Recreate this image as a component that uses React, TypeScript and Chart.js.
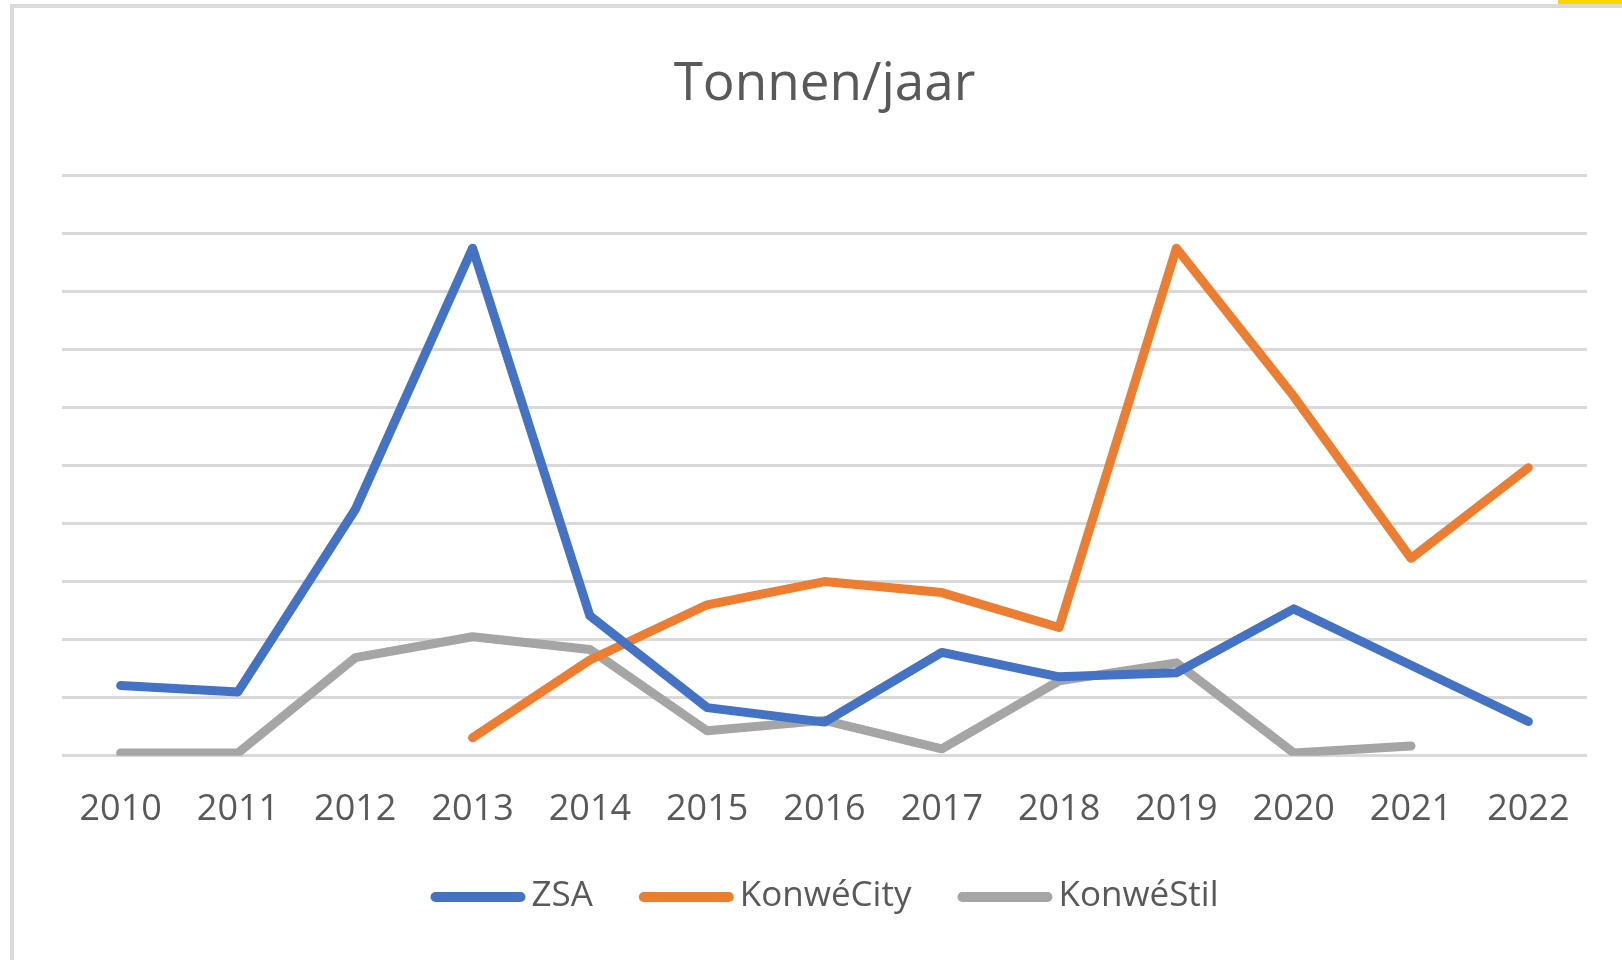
import React, { useEffect, useRef } from "react";
import { Chart, registerables } from "chart.js";

Chart.register(...registerables);

const categories = ["2010", "2011", "2012", "2013", "2014", "2015", "2016", "2017", "2018", "2019", "2020", "2021", "2022"];
const zsa = [1.21, 1.1, 4.24, 8.74, 2.41, 0.83, 0.58, 1.78, 1.36, 1.43, 2.53, 1.56, 0.59];
const konweCity = [null, null, null, 0.31, 1.65, 2.6, 3.0, 2.81, 2.21, 8.74, 6.19, 3.4, 4.96];
const konweStil = [0.05, 0.05, 1.69, 2.05, 1.83, 0.43, 0.61, 0.12, 1.29, 1.6, 0.05, 0.17, null];
const seriesNames = ["ZSA", "KonwéCity", "KonwéStil"];
const seriesColors = ["#4472C4", "#ED7D31", "#A5A5A5"];

const FONT = '"Open Sans", "Noto Sans", sans-serif';
const TEXT = "#595959";

const legendPlugin = {
  id: "customLegend",
  afterDraw(chart: any) {
    const ctx = chart.ctx as CanvasRenderingContext2D;
    const L = 95;
    const gap = 6;
    const spacing = 46;
    const y = 897;
    ctx.save();
    ctx.font = `35px ${FONT}`;
    const items = chart.data.datasets.map((ds: any) => ({
      text: ds.label as string,
      color: ds.borderColor as string,
      w: ctx.measureText(ds.label).width,
    }));
    const total = items.reduce((a: number, it: any) => a + L + gap + it.w, 0) + spacing * (items.length - 1);
    let x = (chart.chartArea.left + chart.chartArea.right) / 2 - total / 2;
    for (const it of items) {
      ctx.strokeStyle = it.color;
      ctx.lineWidth = 10;
      ctx.lineCap = "round";
      ctx.beginPath();
      ctx.moveTo(x + 5, y);
      ctx.lineTo(x + L - 5, y);
      ctx.stroke();
      ctx.fillStyle = TEXT;
      ctx.textBaseline = "middle";
      ctx.textAlign = "left";
      ctx.fillText(it.text, x + L + gap, y - 1);
      x += L + gap + it.w + spacing;
    }
    ctx.restore();
  },
};

export default function App() {
  const ref = useRef<HTMLCanvasElement | null>(null);

  useEffect(() => {
    if (!ref.current) return;
    const mk = (i: number, data: (number | null)[]) => ({
      label: seriesNames[i],
      data,
      borderColor: seriesColors[i],
      backgroundColor: seriesColors[i],
      borderWidth: 9,
      borderCapStyle: "round" as const,
      borderJoinStyle: "round" as const,
      pointRadius: 0,
      pointHoverRadius: 0,
      tension: 0,
      spanGaps: false,
    });
    const chart = new Chart(ref.current, {
      type: "line",
      data: {
        labels: categories,
        datasets: [mk(0, zsa), mk(1, konweCity), mk(2, konweStil)],
      },
      options: {
        responsive: false,
        animation: false,
        layout: { padding: { left: 62, right: 35, top: 0, bottom: 97 } },
        plugins: {
          legend: { display: false },
          tooltip: { enabled: false },
          title: {
            display: true,
            text: "Tonnen/jaar",
            color: TEXT,
            font: { family: FONT, size: 53, weight: "normal" },
            padding: { top: 53, bottom: 58.4 },
          },
        },
        scales: {
          x: {
            offset: true,
            grid: { display: false, drawTicks: false },
            border: { display: false },
            ticks: {
              color: TEXT,
              font: { family: FONT, size: 36 },
              padding: 32,
              maxRotation: 0,
              autoSkip: false,
            },
          },
          y: {
            min: 0,
            max: 10,
            grid: { color: "#D9D9D9", lineWidth: 3, drawTicks: false },
            border: { display: false },
            ticks: { display: false, stepSize: 1 },
          },
        },
      },
      plugins: [legendPlugin],
    });
    return () => chart.destroy();
  }, []);

  return (
    <div style={{ position: "fixed", left: 0, top: 0, width: 1622, height: 960, overflow: "hidden", background: "#fff" }}>
      <div style={{ position: "absolute", left: 1558, top: 0, width: 64, height: 4, background: "#FFD400" }} />
      <div
        style={{
          position: "absolute",
          left: 10,
          top: 4,
          width: 1700,
          height: 1100,
          borderLeft: "4px solid #DADADA",
          borderTop: "4px solid #DADADA",
        }}
      />
      <canvas ref={ref} width={1622} height={960} style={{ position: "absolute", left: 0, top: 0 }} />
    </div>
  );
}
